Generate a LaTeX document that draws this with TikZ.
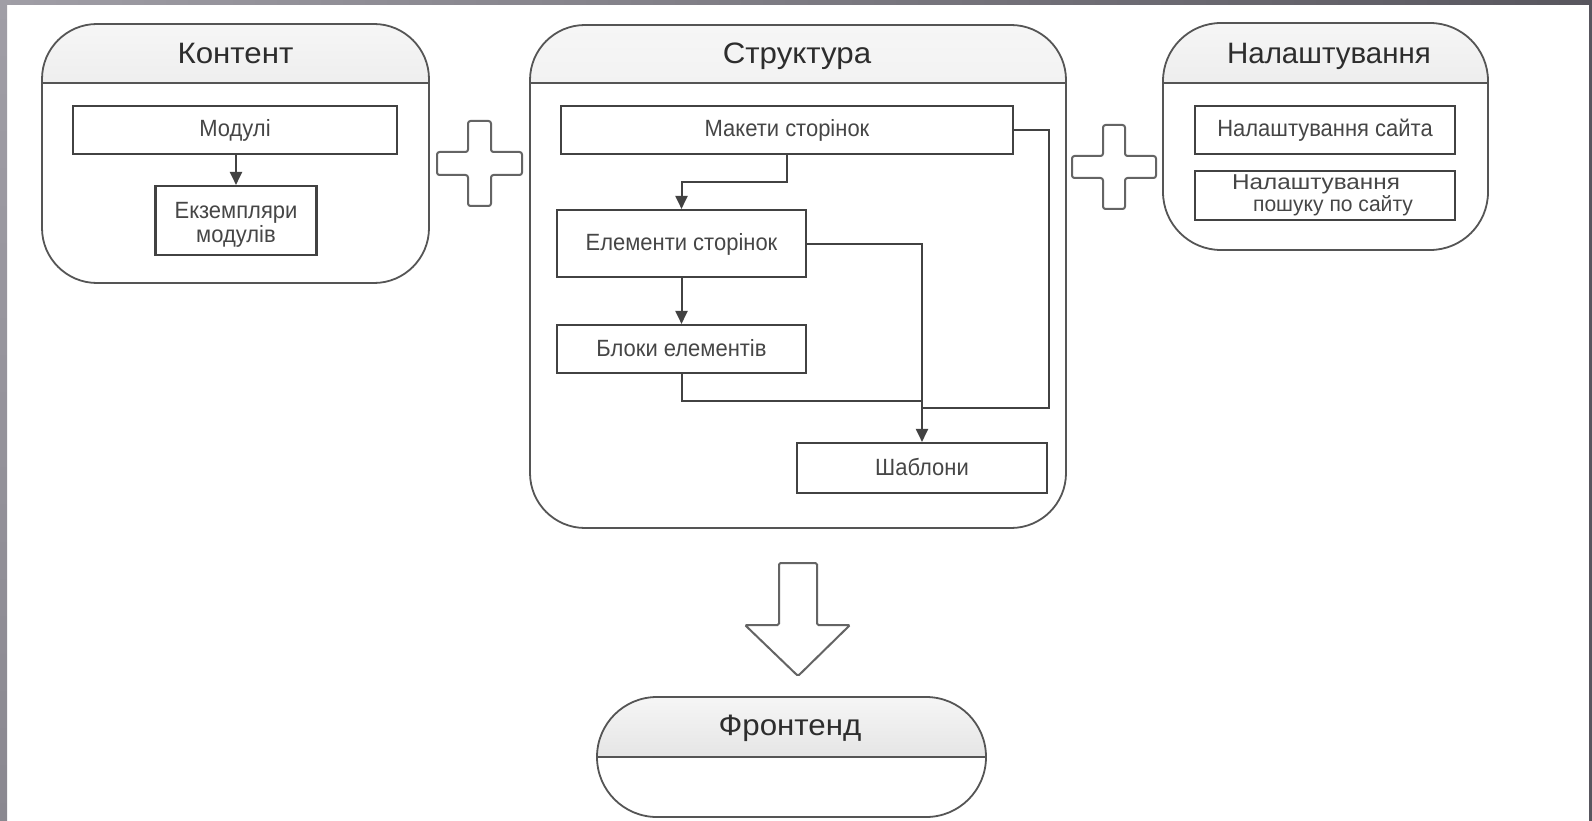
\documentclass[tikz,border=0pt]{standalone}
\usepackage{fontspec}
\setmainfont{Liberation Sans}
\newfontfamily\headfont[FakeStretch=1.06]{Liberation Sans}
\newfontfamily\innerfont[FakeStretch=0.935]{Liberation Sans}
\newfontfamily\widefont[FakeStretch=1.13]{Liberation Sans}
\newfontfamily\midfont[FakeStretch=0.98]{Liberation Sans}
\usetikzlibrary{arrows.meta}

\definecolor{linecol}{RGB}{66,66,66}
\definecolor{outercol}{RGB}{85,85,85}
\definecolor{headtext}{RGB}{45,45,45}
\definecolor{innertext}{RGB}{70,70,70}
\definecolor{hdtop}{RGB}{246,246,246}
\definecolor{hdbot}{RGB}{212,212,212}
\definecolor{plusline}{RGB}{100,100,100}
\definecolor{edgelight}{RGB}{160,158,166}
\definecolor{edgedark}{RGB}{88,86,94}
\definecolor{edgeside}{RGB}{138,136,144}

\tikzset{
  outerbox/.style={draw=outercol, line width=1.8pt, fill=white, rounded corners=55pt,
    inner sep=0pt,
    path picture={\shade[sharp corners, top color=hdtop, bottom color=hdbot]
      (path picture bounding box.north west) rectangle
      ([yshift=-#1]path picture bounding box.north east);}},
  headline/.style={draw=outercol, line width=1.8pt},
  heading/.style={font=\headfont\fontsize{29.5}{32}\selectfont, text=headtext,
    inner sep=0pt, anchor=base},
  item/.style={draw=linecol, line width=2.1pt, fill=white, inner sep=0pt, align=center,
    font=\innerfont\fontsize{23.5}{24}\selectfont, text=innertext,
    text height=17pt, text depth=3pt},
  multiline/.style={text height={}, text depth={}},
  link/.style={draw=linecol, line width=2pt},
  linkarrow/.style={link, -{Triangle[length=13pt,width=12pt]}},
  bigshape/.style={draw=plusline, line width=2pt, fill=white, rounded corners=2.5pt},
}

\begin{document}
\begin{tikzpicture}[x=1pt, y=-1pt]
  % page with the grey frame strips
  \useasboundingbox (0,0) rectangle (1592,821);
  \fill[white] (0,0) rectangle (1592,821);
  \shade[top color=edgelight, bottom color=edgeside] (0,0) rectangle (7,821);
  \shade[left color=edgelight, right color=edgedark] (0,0) rectangle (1592,5);
  \fill[edgedark] (1589,0) rectangle (1592,821);

  % ---------- Контент ----------
  \node[outerbox=59pt, minimum width=387pt, minimum height=259pt] (kon) at (235.5,153.5) {};
  \draw[headline] (kon.west |- 0,83) -- (kon.east |- 0,83);
  \node[heading] (konT) at (235.5,63.5) {Контент};
  \node[item, minimum width=324pt, minimum height=48pt] (mod) at (235,130) {Модулі};
  \node[item, multiline, minimum width=161pt, minimum height=69pt] (ekz) at (236,220.5)
    {\rule{0pt}{24pt}Екземпляри\\модулів};
  \draw[linkarrow] (mod.south -| ekz.north) -- (ekz.north);

  % ---------- first plus ----------
  \draw[bigshape, shift={(479.5,163.5)}]
    (-11.5,-42.5) -- (11.5,-42.5) -- (11.5,-11.5) -- (42.5,-11.5) -- (42.5,11.5)
    -- (11.5,11.5) -- (11.5,42.5) -- (-11.5,42.5) -- (-11.5,11.5) -- (-42.5,11.5)
    -- (-42.5,-11.5) -- (-11.5,-11.5) -- cycle;

  % ---------- Структура ----------
  \node[outerbox=58pt, minimum width=536pt, minimum height=503pt] (str) at (798,276.5) {};
  \draw[headline] (str.west |- 0,83) -- (str.east |- 0,83);
  \node[heading] (strT) at (797,63.5) {Структура};
  \node[item, minimum width=452pt, minimum height=48pt] (mak) at (787,130) {Макети сторінок};
  \node[item, minimum width=249pt, minimum height=67pt] (el) at (681.5,243.5) {Елементи сторінок};
  \node[item, minimum width=249pt, minimum height=48pt] (bl) at (681.5,349) {Блоки елементів};
  \node[item, minimum width=250pt, minimum height=50pt] (sh) at (922,468) {Шаблони};

  \coordinate (bend) at (787,182);
  \coordinate (jb) at (922,401);
  \coordinate (loop) at (1049,408);
  \coordinate (jl) at (922,408);
  \draw[linkarrow] (mak.south) -- (bend) -| (el.north);
  \draw[linkarrow] (el.south) -- (bl.north);
  \draw[linkarrow] (el.east) -| (sh.north);
  \draw[link] (bl.south) |- (jb);
  \draw[link] (mak.east) -| (loop) -- (jl);

  % ---------- second plus ----------
  \draw[bigshape, shift={(1114,167)}]
    (-11,-42) -- (11,-42) -- (11,-11) -- (42,-11) -- (42,11)
    -- (11,11) -- (11,42) -- (-11,42) -- (-11,11) -- (-42,11)
    -- (-42,-11) -- (-11,-11) -- cycle;

  % ---------- Налаштування ----------
  \node[outerbox=60pt, rounded corners=58pt, minimum width=325pt, minimum height=227pt] (nal) at (1325.5,136.5) {};
  \draw[headline] (nal.west |- 0,83) -- (nal.east |- 0,83);
  \node[heading, font=\fontsize{29.5}{32}\selectfont] (nalT) at (1329,64) {Налаштування};
  \node[item, minimum width=260pt, minimum height=48pt] (site) at (1325,130) {Налаштування сайта};
  \node[item, multiline, minimum width=260pt, minimum height=49pt,
        font=\fontsize{21.5}{20}\selectfont] (search) at (1325,195.5)
    {{\widefont Налаштування}\hspace*{18pt}\\\hspace*{16pt}{\midfont пошуку по сайту}};

  % ---------- big down arrow ----------
  \draw[bigshape, rounded corners=1.5pt]
    (779,563) -- (817,563) -- (817,625) -- (850,625) -- (798,676)
    -- (745,625) -- (779,625) -- cycle;

  % ---------- Фронтенд ----------
  \node[outerbox=60pt, rounded corners=59.9pt, minimum width=389pt, minimum height=120pt] (fr) at (791.5,757) {};
  \draw[headline] (fr.west) -- (fr.east);
  \node[heading] (frT) at (790,735) {Фронтенд};
\end{tikzpicture}
\end{document}
